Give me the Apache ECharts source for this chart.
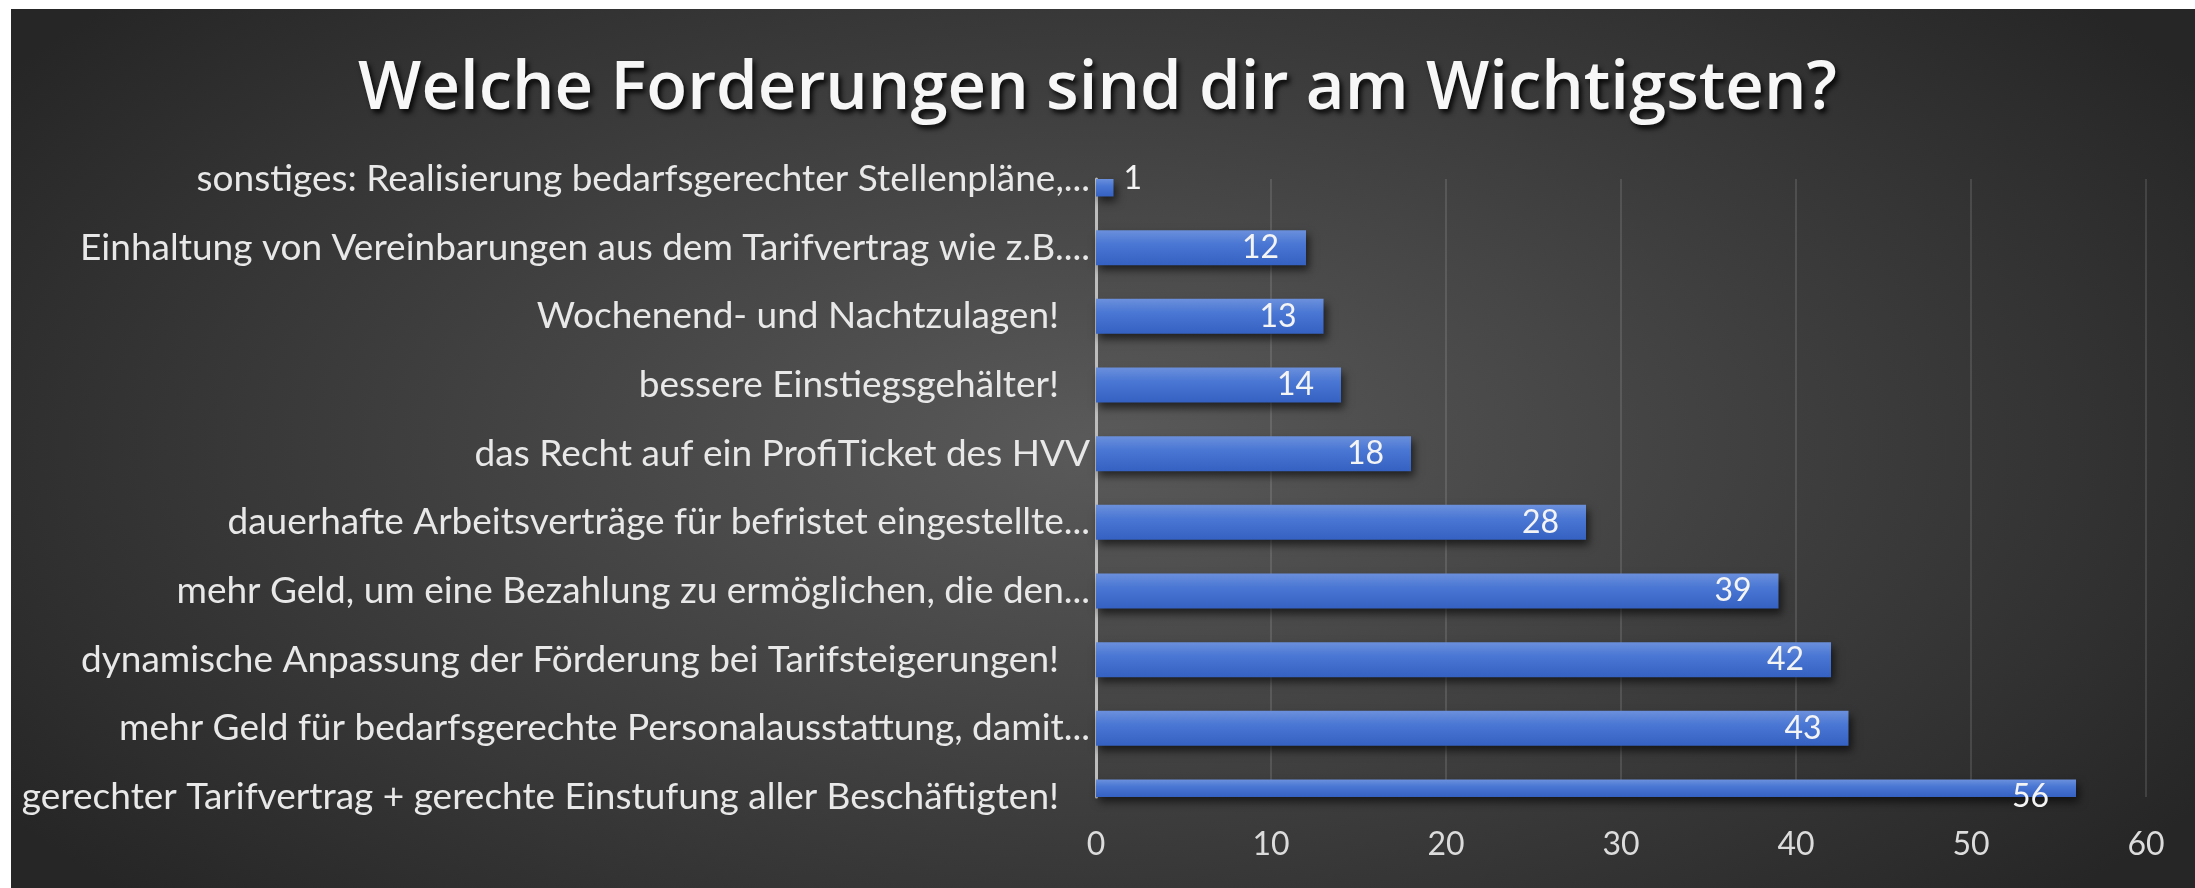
<!DOCTYPE html>
<html>
<head>
<meta charset="utf-8">
<title>Welche Forderungen sind dir am Wichtigsten?</title>
<script src="https://cdn.jsdelivr.net/npm/echarts@6/dist/echarts.min.js"></script>
<style>
html,body{margin:0;padding:0;background:#fff;}
#chart{
    width:2195px;
    height:888px;
    background:
        linear-gradient(#fff,#fff) left top / 11px 100% no-repeat,
        linear-gradient(#fff,#fff) left top / 100% 9px no-repeat,
        radial-gradient(ellipse 60% 75% at 50% 50%, #5a5a5a 0%, #3d3d3d 55%, #262626 100%);
}
</style>
</head>
<body>
<div id="chart"></div>
<script>
// Kategorien, von oben nach unten
var forderungen = [
    'sonstiges: Realisierung bedarfsgerechter Stellenpläne,...',
    'Einhaltung von Vereinbarungen aus dem Tarifvertrag wie z.B....',
    'Wochenend- und Nachtzulagen!',
    'bessere Einstiegsgehälter!',
    'das Recht auf ein ProfiTicket des HVV',
    'dauerhafte Arbeitsverträge für befristet eingestellte...',
    'mehr Geld, um eine Bezahlung zu ermöglichen, die den...',
    'dynamische Anpassung der Förderung bei Tarifsteigerungen!',
    'mehr Geld für bedarfsgerechte Personalausstattung, damit...',
    'gerechter Tarifvertrag + gerechte Einstufung aller Beschäftigten!'
];
var stimmen = [1, 12, 13, 14, 18, 28, 39, 42, 43, 56];
var xTicks = [0, 10, 20, 30, 40, 50, 60];

var labelFont = 'Lato';
var barWidth = 35;
var chart = echarts.init(document.getElementById('chart'), null, {renderer: 'canvas'});

var barFill = new echarts.graphic.LinearGradient(0, 0, 0, 1, [
    {offset: 0, color: '#6b90dc'},
    {offset: 0.4, color: '#4a77d4'},
    {offset: 1, color: '#3562c2'}
]);

// Balken selbst zeichnen: wie im Excel-Original liegen die aeusseren Kategorien
// genau auf dem Rand der Zeichenflaeche und werden dort halbiert
function renderBar(params, api) {
    var wert = api.value(0);
    var idx = api.value(1);
    var p0 = api.coord([0, idx]);
    var p1 = api.coord([wert, idx]);
    var full = {x: p0[0], y: p0[1] - barWidth / 2, width: p1[0] - p0[0], height: barWidth};
    var cs = params.coordSys;
    var rect = echarts.graphic.clipRectByRect(full, {x: cs.x, y: cs.y, width: cs.width, height: cs.height});
    if (!rect) return;
    var klein = wert < 3;
    return {
        type: 'rect',
        shape: rect,
        style: {
            fill: barFill,
            shadowColor: 'rgba(0,0,0,0.6)',
            shadowBlur: 8,
            shadowOffsetX: 3,
            shadowOffsetY: 5
        },
        textContent: {
            style: {
                text: String(wert),
                fill: '#f4f4f4',
                fontFamily: labelFont,
                fontSize: 32
            }
        },
        textConfig: {
            position: klein ? 'right' : 'insideRight',
            distance: klein ? 10 : 27,
            layoutRect: full
        }
    };
}

var option = {
    backgroundColor: 'transparent',
    animation: false,
    title: {
        text: 'Welche Forderungen sind dir am Wichtigsten?',
        left: 'center',
        top: 51,
        textStyle: {
            fontFamily: 'Open Sans',
            fontWeight: 600,
            fontSize: 67,
            color: '#f7f7f7',
            textShadowColor: 'rgba(0,0,0,0.85)',
            textShadowBlur: 5,
            textShadowOffsetX: 3,
            textShadowOffsetY: 4
        }
    },
    grid: {
        left: 1096,
        right: 49,
        top: 179,
        bottom: 91,
        containLabel: false,
        outerBoundsMode: 'none'
    },
    xAxis: {
        type: 'value',
        min: xTicks[0],
        max: xTicks[xTicks.length - 1],
        interval: xTicks[1] - xTicks[0],
        axisLine: {show: false},
        axisTick: {show: false},
        axisLabel: {
            margin: 32,
            fontFamily: labelFont,
            fontSize: 32,
            color: '#dcdcdc'
        },
        splitLine: {
            show: true,
            lineStyle: {color: 'rgba(255,255,255,0.16)', width: 1.5}
        }
    },
    yAxis: {
        type: 'category',
        data: forderungen,
        inverse: true,
        boundaryGap: false,
        axisLine: {show: true, lineStyle: {color: '#bdbdbd', width: 3}},
        axisTick: {show: false},
        splitLine: {show: false},
        axisLabel: {
            interval: 0,
            margin: 6,
            fontFamily: labelFont,
            fontSize: 37,
            color: '#e8e8e8',
            // Eintraege mit "!" stehen im Original etwas weiter links
            formatter: function (v) {
                return v.charAt(v.length - 1) === '!' ? '{p|' + v + '}' : v;
            },
            rich: {
                p: {
                    fontFamily: labelFont,
                    fontSize: 37,
                    color: '#e8e8e8',
                    padding: [0, 31, 0, 0]
                }
            }
        }
    },
    series: [
        {
            type: 'custom',
            renderItem: renderBar,
            encode: {x: 0, y: 1},
            data: stimmen.map(function (v, i) { return [v, i]; }),
            z: 3
        }
    ]
};
chart.setOption(option);
</script>
</body>
</html>
